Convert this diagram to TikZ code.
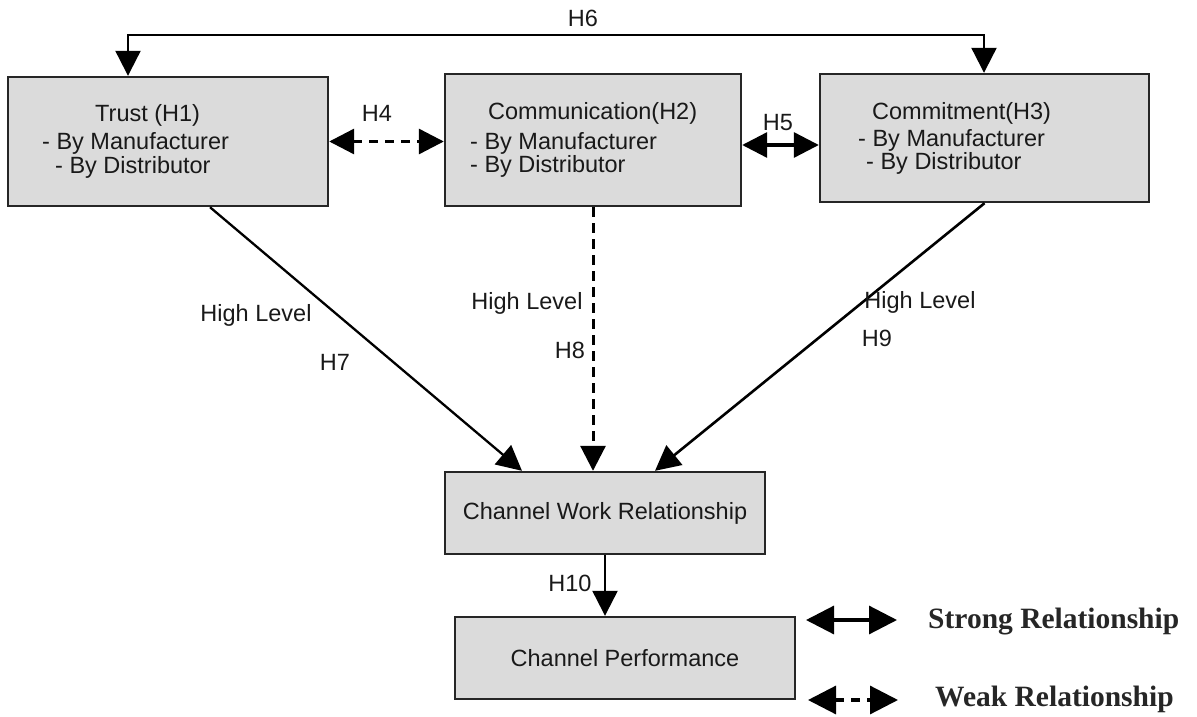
\documentclass[tikz,border=0pt]{standalone}
\usepackage{fontspec}
\setmainfont{Liberation Sans}
\newfontfamily\legendfont{Liberation Serif}
\usetikzlibrary{arrows.meta,calc}

\tikzset{
  box/.style={draw=black!85, line width=2.4pt, fill=black!14, rectangle, inner sep=0pt},
  txt/.style={inner sep=0pt, anchor=west, font=\fontsize{23.5}{28}\selectfont, text=black!90},
  lbl/.style={inner sep=0pt, font=\fontsize{23.5}{28}\selectfont, text=black!90},
  legtxt/.style={inner sep=0pt, anchor=west, font=\legendfont\bfseries\fontsize{29.5}{34}\selectfont, text=black!85},
  tip/.tip={Triangle[length=25pt,width=25pt]},
  bigtip/.tip={Triangle[length=28pt,width=28pt]},
  link/.style={line width=2.3pt, -{tip}},
  stronglink/.style={line width=3.2pt, {tip}-{tip}},
  weaklink/.style={line width=3.2pt, dash pattern=on 9pt off 7pt, {tip}-{tip}},
  weakdown/.style={line width=3pt, dash pattern=on 10pt off 6pt, -{tip}},
}

\begin{document}
\begin{tikzpicture}[x=1pt, y=-1pt]
\useasboundingbox (0,0) rectangle (1197,717);

% construct boxes
\node[box, minimum width=320pt, minimum height=129pt] (trust)  at (168,141.5) {};
\node[box, minimum width=296pt, minimum height=132pt] (comm)   at (593,140) {};
\node[box, minimum width=329pt, minimum height=128pt] (commit) at (984.5,138) {};
\node[box, minimum width=320pt, minimum height=82pt]  (cwr)    at (605,513) {};
\node[box, minimum width=340pt, minimum height=82pt]  (cp)     at (625,658) {};

% box texts
\node[txt] (t1) at (95,115) {Trust (H1)};
\node[txt] (t2) at (42,143) {- By Manufacturer};
\node[txt] (t3) at (55,167) {- By Distributor};

\node[txt] (c1) at (488,113) {Communication(H2)};
\node[txt] (c2) at (470,143) {- By Manufacturer};
\node[txt] (c3) at (470,166) {- By Distributor};

\node[txt] (m1) at (872,113) {Commitment(H3)};
\node[txt] (m2) at (858,140) {- By Manufacturer};
\node[txt] (m3) at (866,163) {- By Distributor};

\node[lbl] (w1) at (cwr.center) {Channel Work Relationship};
\node[lbl] (p1) at (cp.center) {Channel Performance};

% H6 across the top
\coordinate (h6l) at (128,35);
\coordinate (h6r) at (984,35);
\draw[line width=2.2pt, {tip}-{tip}] (h6l |- trust.north) -- (h6l) -- (h6r) -- (h6r |- commit.north);
\node[lbl] (h6) at (583,18) {H6};

% H4 and H5
\draw[weaklink] (trust.east) -- (trust.east -| comm.west);
\node[lbl] (h4) at (377,113) {H4};
\coordinate (h5y) at (780,145);
\draw[stronglink] (h5y -| comm.east) -- (h5y -| commit.west);
\node[lbl] (h5) at (778,123) {H5};

% links into the channel work relationship
\coordinate (x7s) at (210,0);
\coordinate (x7e) at (522,0);
\coordinate (x9e) at (655,0);
\draw[link] (trust.south -| x7s) -- (cwr.north -| x7e);
\draw[weakdown] (comm.south) -- (comm.south |- cwr.north);
\draw[link, line width=2.6pt] (commit.south) -- (cwr.north -| x9e);

\node[lbl] (hl7) at (256,315) {High Level};
\node[lbl] (h7)  at (335,362) {H7};
\node[lbl] (hl8) at (527,303) {High Level};
\node[lbl] (h8)  at (570,350) {H8};
\node[lbl] (hl9) at (920,302) {High Level};
\node[lbl] (h9)  at (877,338) {H9};

% H10
\draw[link] (cwr.south) -- (cwr.south |- cp.north);
\node[lbl] (h10) at (570,583) {H10};

% legend
\coordinate (ls1) at (806,620);
\coordinate (ls2) at (897,620);
\coordinate (lw1) at (808,700);
\coordinate (lw2) at (898,700);
\draw[line width=3.2pt, {bigtip}-{bigtip}] (ls1) -- (ls2);
\draw[line width=3.2pt, dash pattern=on 9pt off 7pt, {bigtip}-{bigtip}] (lw1) -- (lw2);
\node[legtxt] (ls) at (928,622) {Strong Relationship};
\node[legtxt] (lw) at (935,699) {Weak Relationship};
\end{tikzpicture}
\end{document}
